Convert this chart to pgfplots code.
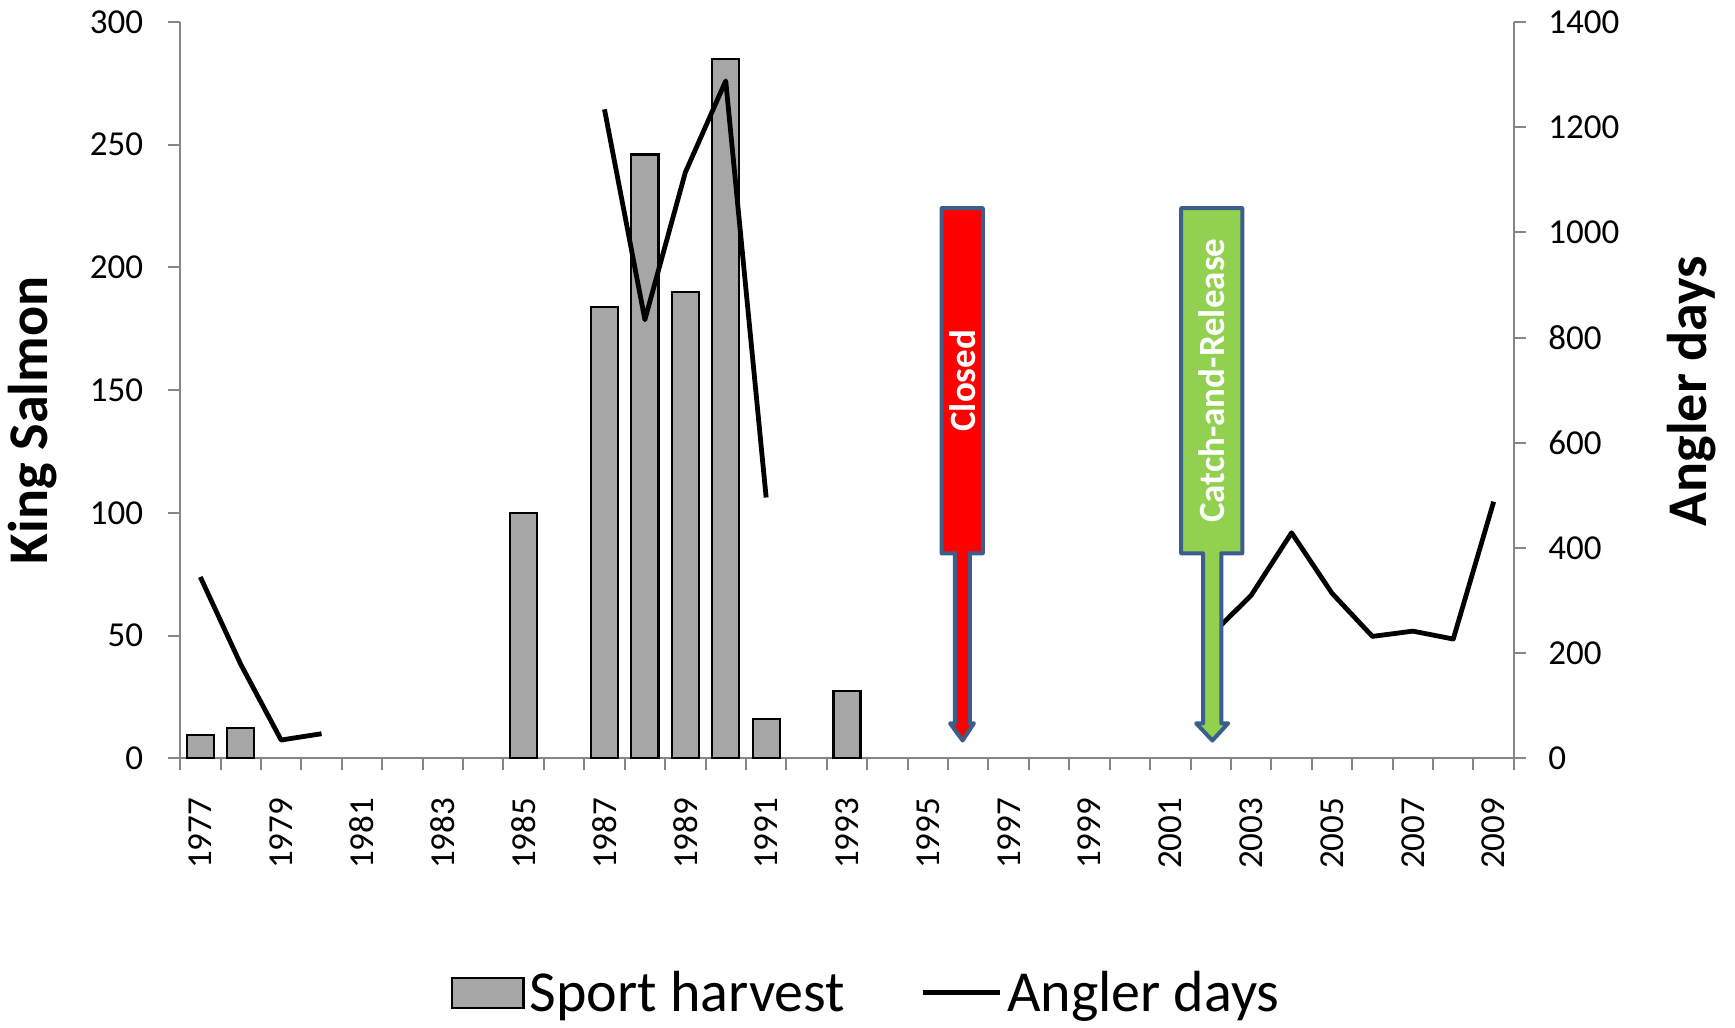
\documentclass[border=0pt]{standalone}
\usepackage{pgfplots}
\pgfplotsset{compat=1.18}
\usepackage{pgfplotstable}
\usepackage{fontspec}
\setmainfont{Carlito}
\definecolor{barfill}{HTML}{A6A6A6}
\definecolor{axgray}{HTML}{868686}
\definecolor{arrowblue}{HTML}{3B5E8C}
\definecolor{crgreen}{HTML}{92D050}

\pgfplotsset{
  barleg/.style={legend image code/.code={\draw[##1] (0pt,-7.5pt) rectangle (35.5pt,7.5pt);}},
  lineleg/.style={legend image code/.code={\draw[##1] (0pt,0pt) -- (38.5pt,0pt);}},
}

\pgfplotstableread{
year harvest
1977 9.5
1978 12.5
1985 100
1987 184
1988 246
1989 190
1990 285
1991 16
1993 27.5
}\harvest

\pgfplotstableread{
year days
1977 345
1978 179
1979 35
1980 47
1981 nan
1986 nan
1987 1234
1988 834
1989 1114
1990 1288
1991 496
1992 nan
2002 234
2003 310
2004 429
2005 314
2006 232
2007 242
2008 227
2009 488
}\angler

\begin{document}
\begin{tikzpicture}
\path[use as bounding box] (-90pt,-134.5pt) rectangle (777pt,379pt);
\pgfplotsset{
  base/.style={
    scale only axis, width=666.5pt, height=368pt,
    xmin=1976.5, xmax=2009.5,
    axis line style={axgray, line width=1pt},
    tick style={axgray, line width=1pt},
    tick align=outside,
    major tick length=0pt, minor tick length=6pt,
    /pgf/number format/assume math mode=true,
    /pgf/number format/1000 sep={},
    ticklabel style={font=\fontsize{17.5}{21}\selectfont, inner sep=0pt},
  }
}
\begin{axis}[base,
  ymin=0, ymax=300,
  ytick={0,50,...,300}, minor ytick={0,50,...,300},
  xtick={1977,1979,...,2009},
  minor xtick={1976.5,1977.5,...,2009.5},
  axis x line*=bottom, axis y line*=left,
  xticklabel style={rotate=90, anchor=east},
  xticklabel shift=19.5pt,
  yticklabel shift=18.25pt,
  ylabel={King Salmon},
  ylabel style={font=\bfseries\fontsize{28}{32}\selectfont,
    at={(axis description cs:-0.1106,0.459)}, anchor=center},
]
\addplot[ybar, bar width=0.67, fill=barfill, draw=black, line width=1.1pt]
  table[x=year, y=harvest] {\harvest};
\end{axis}

\begin{axis}[base,
  ymin=0, ymax=1400,
  ytick={0,200,...,1400}, minor ytick={0,200,...,1400},
  axis x line=none, axis y line*=right,
  yticklabel shift=17pt,
  yticklabel style={anchor=west},
  ylabel={Angler days},
  ylabel style={font=\bfseries\fontsize{28}{32}\selectfont,
    at={(axis description cs:1.133,0.4986)}, anchor=center, rotate=0},
  unbounded coords=jump,
  legend style={at={(rel axis cs:0.5157,-0.318)}, anchor=center,
    draw=none, fill=none, font=\fontsize{29}{34}\selectfont,
    legend columns=2,
    nodes={inner sep=2.5pt},
    /tikz/every even column/.append style={column sep=35pt}},
]
\addlegendimage{fill=barfill, draw=black, line width=1.1pt, barleg}
\addlegendentry{Sport harvest}
\addplot[black, line width=2.4pt, line join=round, lineleg]
  table[x=year, y=days] {\angler};
\addlegendentry{Angler days}

% Closed callout arrow
\draw[arrowblue, line width=2pt, fill=red, line join=round]
  (1995.34,1046) -- (1996.36,1046) -- (1996.36,390) -- (1996.04,390)
  -- (1996.04,66.7) -- (1996.14,66.7) -- (1995.86,34) -- (1995.55,66.7)
  -- (1995.67,66.7) -- (1995.67,390) -- (1995.34,390) -- cycle;
\node[rotate=90, text=white, font=\bfseries\fontsize{18.5}{21}\selectfont]
  at (1995.85,718) {Closed};
% Catch-and-Release callout arrow
\draw[arrowblue, line width=2pt, fill=crgreen, line join=round]
  (2001.27,1046) -- (2002.78,1046) -- (2002.78,390) -- (2002.26,390)
  -- (2002.26,66.7) -- (2002.43,66.7) -- (2002.04,34) -- (2001.64,66.7)
  -- (2001.81,66.7) -- (2001.81,390) -- (2001.27,390) -- cycle;
\node[rotate=90, text=white, font=\bfseries\fontsize{18.5}{21}\selectfont]
  at (2002.03,718) {Catch-and-Release};
\end{axis}
\end{tikzpicture}
\end{document}
